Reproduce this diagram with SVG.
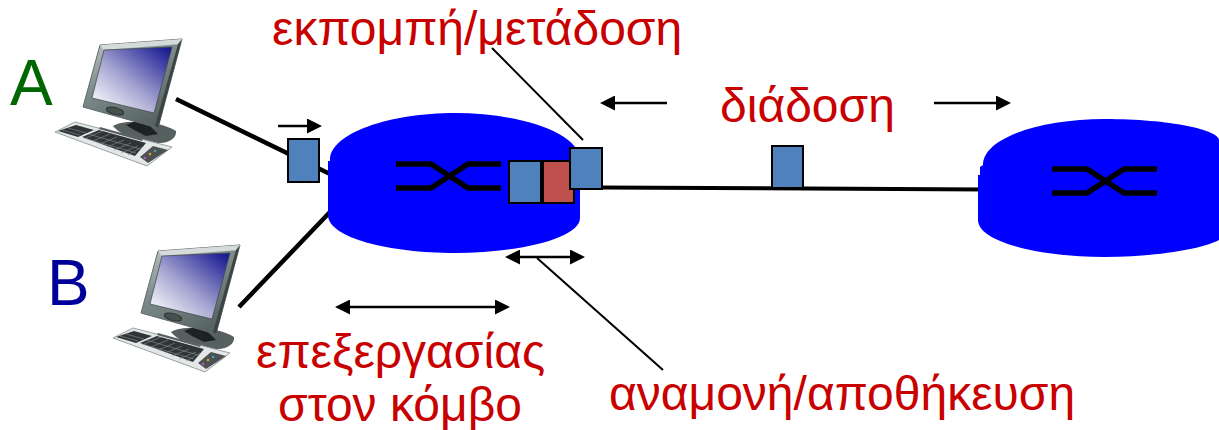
<svg xmlns="http://www.w3.org/2000/svg" width="1219" height="430" viewBox="0 0 1219 430">
<style>
.t{font-family:"Liberation Sans",Arial,sans-serif;font-size:48px;fill:#c80000}
.cloud{fill:#0000ff}
.sw{fill:none;stroke:#000;stroke-width:5.5}
.pb{fill:#4f81bd;stroke:#000;stroke-width:2}
.pr{fill:#c0504d;stroke:#000;stroke-width:2}
.l{stroke:#000;fill:none}
.k{stroke:#8a9092;stroke-width:0.6;fill:none}
</style>
<defs>
<linearGradient id="scr" x1="0.05" y1="0.95" x2="0.95" y2="0.05"><stop offset="0" stop-color="#ffffff"/><stop offset="0.45" stop-color="#a6a6d2"/><stop offset="1" stop-color="#1c1c94"/></linearGradient>
<linearGradient id="fr" x1="0" y1="0" x2="0.6" y2="1"><stop offset="0" stop-color="#c4cdcc"/><stop offset="0.45" stop-color="#7f8e8d"/><stop offset="1" stop-color="#566362"/></linearGradient>
<marker id="am" markerWidth="15" markerHeight="15" refX="1" refY="7.5" orient="auto-start-reverse" markerUnits="userSpaceOnUse"><path d="M0,0L15,7.5L0,15Z" fill="#000"/></marker>
<g id="pc">
<path d="M113,126C125,119 160,121 176,131C177,137 170,143 160,143C140,143 120,135 113,126Z" fill="#56605f"/>
<path d="M126,125L136,121L150,126L158,134L146,136L134,130Z" fill="#1d2222"/>
<path d="M100,45L182,39L158,128L83,107Z" fill="url(#fr)" stroke="#5f6a69" stroke-width="1"/>
<path d="M100,45L182,39L181,44L104,50Z" fill="#d5dada"/>
<path d="M182,39L158,128L155,126L178,44Z" fill="#3c4444"/>
<path d="M104,50L172,47L154,113L92,98Z" fill="url(#scr)" stroke="#3c4444" stroke-width="0.7"/>
<ellipse cx="115" cy="111" rx="9" ry="3.5" transform="rotate(15 115 111)" fill="#46504f" stroke="#2c3333"/>
<path d="M55,132L75,122L172,147L147,166Z" fill="#e4e7e7" stroke="#9aa1a1" stroke-width="1"/>
<path d="M58,131L76,125L94,130L78,137Z M82,137L99,130L146,143L135,156Z" fill="#2f3436"/>
<path class="k" d="M86,138L103,131M93,141L110,134M100,144L117,137M107,147L124,140M114,150L131,143M121,153L138,146M128,155L142,147M88,134L140,149M84,138L136,153M62,130L80,135M68,128L86,133"/>
<path d="M100,127L143,139L142,141L99,129Z" fill="#5a6062"/>
<path d="M140,157L153,146L168,150L148,163Z" fill="#4c5254"/>
<circle cx="145" cy="158" r="1.3" fill="#b060b0"/><circle cx="150" cy="154" r="1.3" fill="#e0a030"/><circle cx="155" cy="151" r="1.3" fill="#40a0b0"/>
</g>
<g id="swx"><path class="sw" d="M0,0H35L72,24H105"/><path class="sw" d="M0,24H35L72,0H105"/></g>
</defs>
<g id="connectors">
<path class="l" stroke-width="4.5" d="M176,99L330,174M239,307L330,212"/>
<path class="l" stroke-width="4" d="M600,187.5L985,189.5"/>
<path class="l" stroke-width="2" d="M492,48L583,140M537,258L663,370"/>
<path class="l" stroke-width="2.5" d="M278,126H308" marker-end="url(#am)"/>
<path class="l" stroke-width="2.5" d="M667,103H614" marker-end="url(#am)"/>
<path class="l" stroke-width="2.5" d="M934,103H997" marker-end="url(#am)"/>
<path class="l" stroke-width="2.5" d="M349,307H496" marker-start="url(#am)" marker-end="url(#am)"/>
<path class="l" stroke-width="2.5" d="M519,257H571" marker-start="url(#am)" marker-end="url(#am)"/>
</g>
<g id="host-a"><use href="#pc"/></g>
<g id="host-b"><use href="#pc" x="58" y="206"/></g>
<g id="router-1">
<path class="cloud" d="M330,160C330,133 390,113 455,113C520,113 580,133 580,160V218C580,238 520,253 455,253C390,253 328,238 328,215V161H330Z"/>
<use href="#swx" x="396" y="164"/>
</g>
<g id="router-2">
<path class="cloud" d="M983,165C983,138 1040,119 1105,119C1170,119 1219,130 1219,140V240C1200,250 1150,257 1105,257C1040,257 978,242 978,220V175H980V167Z"/>
<use href="#swx" x="1052" y="169"/>
</g>
<g id="packet-queue-1"><rect class="pb" x="509" y="161" width="32" height="42"/></g>
<g id="packet-queue-2"><rect class="pr" x="543" y="161" width="31" height="42"/></g>
<g id="packet-tx"><rect class="pb" x="570" y="148" width="32" height="41"/></g>
<g id="packet-in"><rect class="pb" x="288" y="139" width="31" height="43"/></g>
<g id="packet-link"><rect class="pb" x="772" y="146" width="31" height="42"/></g>
<g id="labels">
<text class="t" x="272" y="45">εκπομπή/μετάδοση</text>
<text class="t" x="720" y="122">διάδοση</text>
<text class="t" x="256" y="368">επεξεργασίας</text>
<text class="t" x="278" y="421">στον κόμβο</text>
<text class="t" x="609" y="410">αναμονή/αποθήκευση</text>
<text x="10" y="105" style="font-family:'Liberation Sans',Arial,sans-serif;font-size:64px;fill:#006600">A</text>
<text x="47" y="305" style="font-family:'Liberation Sans',Arial,sans-serif;font-size:64px;fill:#000099">B</text>
</g>
</svg>
